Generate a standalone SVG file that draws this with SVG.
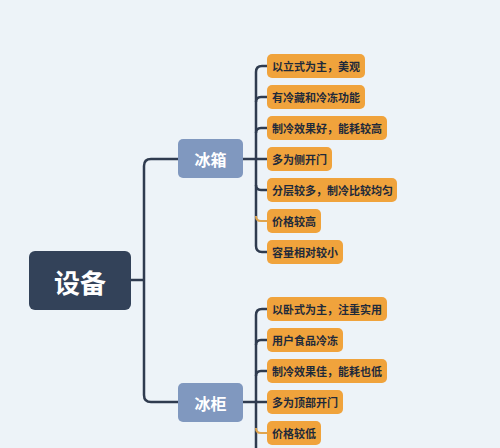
<svg xmlns="http://www.w3.org/2000/svg" width="500" height="448" viewBox="0 0 500 448">
<style>
text{font-family:"Noto Sans CJK SC","Noto Sans",sans-serif;font-weight:bold;}
.leaf rect{fill:#f0a33c;}
.leaf text{fill:#1f2a3a;font-size:11px;dominant-baseline:central;}
.mid rect{fill:#8098bf;}
.mid text{fill:#ffffff;font-size:16px;text-anchor:middle;dominant-baseline:central;}
.edge{fill:none;stroke:#2f3b4f;stroke-width:2.5;}
.edge2{fill:none;stroke:#e0a54e;stroke-width:2;}
</style>
<rect width="500" height="448" fill="#edf3f8"/>
<g id="connectors">
<path class="edge" d="M131,280 L144,280"/>
<path class="edge" d="M178,159 L151,159 Q144,159 144,166 L144,395 Q144,402 151,402 L178,402"/>
<path class="edge" d="M243,159 L267,159"/>
<path class="edge" d="M267,66 L262,66 Q256,66 256,72 L256,246 Q256,252 262,252 L267,252"/>
<path class="edge" d="M256,102 Q256,97 261,97 L267,97"/>
<path class="edge" d="M256,133 Q256,128 261,128 L267,128"/>
<path class="edge" d="M256,185 Q256,190 261,190 L267,190"/>
<path class="edge2" d="M256,216 Q256,221 261,221 L267,221"/>
<path class="edge" d="M243,402 L267,402"/>
<path class="edge" d="M267,309 L262,309 Q256,309 256,315 L256,450"/>
<path class="edge" d="M256,345 Q256,340 261,340 L267,340"/>
<path class="edge" d="M256,376 Q256,371 261,371 L267,371"/>
<path class="edge2" d="M256,428 Q256,433 261,433 L267,433"/>
</g>
<g id="root">
<rect x="29" y="251" width="102" height="59" rx="6" fill="#334259"/>
<text x="80" y="281" fill="#ffffff" font-size="26" text-anchor="middle" dominant-baseline="central">设备</text>
</g>
<g id="bingxiang" class="mid">
<rect x="178" y="139" width="65" height="39" rx="5"/>
<text x="210.5" y="158.5">冰箱</text>
</g>
<g id="bingui" class="mid">
<rect x="178" y="383" width="65" height="39" rx="5"/>
<text x="210.5" y="402.5">冰柜</text>
</g>
<g id="a1" class="leaf"><rect x="267" y="54" width="98" height="24" rx="5"/><text x="272" y="66">以立式为主，美观</text></g>
<g id="a2" class="leaf"><rect x="267" y="85" width="98" height="24" rx="5"/><text x="272" y="97">有冷藏和冷冻功能</text></g>
<g id="a3" class="leaf"><rect x="267" y="116" width="120" height="24" rx="5"/><text x="272" y="128">制冷效果好，能耗较高</text></g>
<g id="a4" class="leaf"><rect x="267" y="147" width="65" height="24" rx="5"/><text x="272" y="159">多为侧开门</text></g>
<g id="a5" class="leaf"><rect x="267" y="178" width="130" height="24" rx="5"/><text x="272" y="190">分层较多，制冷比较均匀</text></g>
<g id="a6" class="leaf"><rect x="267" y="209" width="54" height="24" rx="5"/><text x="272" y="221">价格较高</text></g>
<g id="a7" class="leaf"><rect x="267" y="240" width="76" height="24" rx="5"/><text x="272" y="252">容量相对较小</text></g>
<g id="b1" class="leaf"><rect x="267" y="297" width="120" height="24" rx="5"/><text x="272" y="309">以卧式为主，注重实用</text></g>
<g id="b2" class="leaf"><rect x="267" y="328" width="76" height="24" rx="5"/><text x="272" y="340">用户食品冷冻</text></g>
<g id="b3" class="leaf"><rect x="267" y="359" width="120" height="24" rx="5"/><text x="272" y="371">制冷效果佳，能耗也低</text></g>
<g id="b4" class="leaf"><rect x="267" y="390" width="76" height="24" rx="5"/><text x="272" y="402">多为顶部开门</text></g>
<g id="b5" class="leaf"><rect x="267" y="421" width="54" height="24" rx="5"/><text x="272" y="433">价格较低</text></g>
</svg>
